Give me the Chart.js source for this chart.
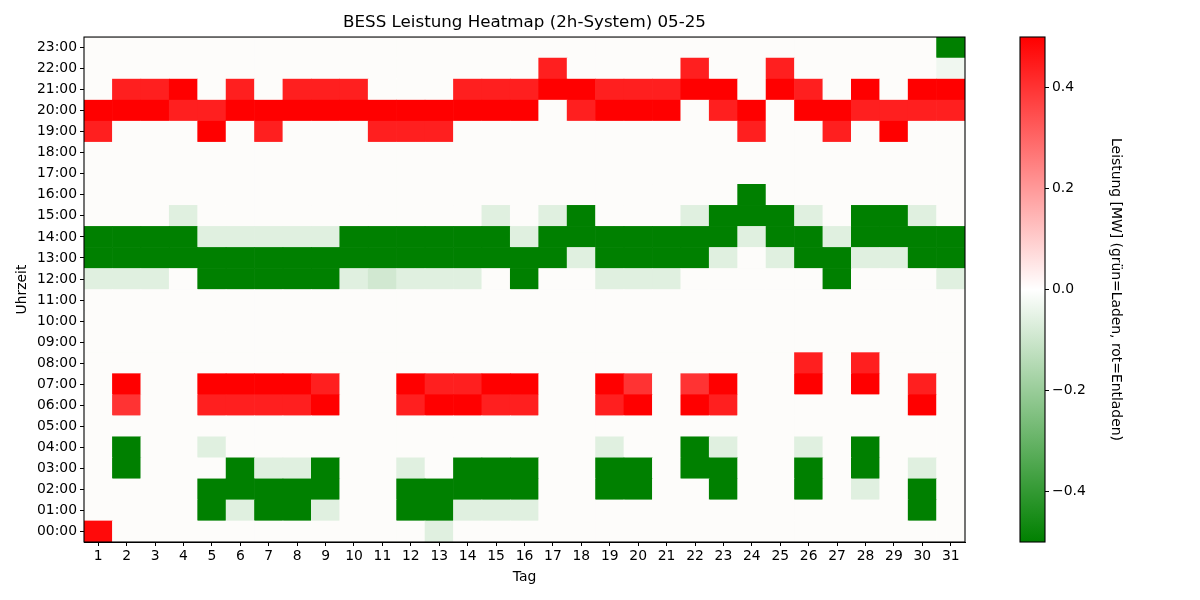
<!DOCTYPE html>
<html lang="de">
<head>
    <meta charset="UTF-8">
    <title>BESS Leistung Heatmap (2h-System) 05-25</title>
    <script src="https://cdn.jsdelivr.net/npm/chart.js"></script>
    <style>
        body {
            margin: 0;
            background: #fff;
        }
        .wrap {
            position: relative;
            width: 1200px;
            height: 600px;
        }
        #heatmap {
            position: absolute;
            left: 0;
            top: 0;
        }
        #colorbar {
            position: absolute;
            left: 1000px;
            top: 0;
        }
    </style>
</head>
<body>
    <div class="wrap">
        <canvas id="heatmap" width="1000" height="600"></canvas>
        <canvas id="colorbar" width="140" height="600"></canvas>
    </div>

    <script>
        const days = ['1','2','3','4','5','6','7','8','9','10','11','12','13','14','15','16',
                      '17','18','19','20','21','22','23','24','25','26','27','28','29','30','31'];
        const hours = ['00:00','01:00','02:00','03:00','04:00','05:00','06:00','07:00','08:00','09:00','10:00','11:00',
                       '12:00','13:00','14:00','15:00','16:00','17:00','18:00','19:00','20:00','21:00','22:00','23:00'];
        const cbTicks = [-0.4, -0.2, 0, 0.2, 0.4];

        // Leistung in MW, eine Zeile pro Stunde (00:00 .. 23:00), Spalten = Tag 1..31
        const leistung = [
            /*00*/ [0.48,0,0,0,0,0,0,0,0,0,0,0,-0.06,0,0,0,0,0,0,0,0,0,0,0,0,0,0,0,0,0,0],
            /*01*/ [0,0,0,0,-0.5,-0.06,-0.5,-0.5,-0.06,0,0,-0.5,-0.5,-0.06,-0.06,-0.06,0,0,0,0,0,0,0,0,0,0,0,0,0,-0.5,0],
            /*02*/ [0,0,0,0,-0.5,-0.5,-0.5,-0.5,-0.5,0,0,-0.5,-0.5,-0.5,-0.5,-0.5,0,0,-0.5,-0.5,0,0,-0.5,0,0,-0.5,0,-0.06,0,-0.5,0],
            /*03*/ [0,-0.5,0,0,0,-0.5,-0.06,-0.06,-0.5,0,0,-0.06,0,-0.5,-0.5,-0.5,0,0,-0.5,-0.5,0,-0.5,-0.5,0,0,-0.5,0,-0.5,0,-0.06,0],
            /*04*/ [0,-0.5,0,0,-0.06,0,0,0,0,0,0,0,0,0,0,0,0,0,-0.06,0,0,-0.5,-0.06,0,0,-0.06,0,-0.5,0,0,0],
            /*05*/ [0,0,0,0,0,0,0,0,0,0,0,0,0,0,0,0,0,0,0,0,0,0,0,0,0,0,0,0,0,0,0],
            /*06*/ [0,0.40,0,0,0.44,0.44,0.44,0.44,0.5,0,0,0.44,0.5,0.5,0.44,0.44,0,0,0.44,0.5,0,0.5,0.44,0,0,0,0,0,0,0.5,0],
            /*07*/ [0,0.5,0,0,0.5,0.5,0.5,0.5,0.44,0,0,0.5,0.44,0.44,0.5,0.5,0,0,0.5,0.40,0,0.40,0.5,0,0,0.5,0,0.5,0,0.44,0],
            /*08*/ [0,0,0,0,0,0,0,0,0,0,0,0,0,0,0,0,0,0,0,0,0,0,0,0,0,0.44,0,0.44,0,0,0],
            /*09*/ [0,0,0,0,0,0,0,0,0,0,0,0,0,0,0,0,0,0,0,0,0,0,0,0,0,0,0,0,0,0,0],
            /*10*/ [0,0,0,0,0,0,0,0,0,0,0,0,0,0,0,0,0,0,0,0,0,0,0,0,0,0,0,0,0,0,0],
            /*11*/ [0,0,0,0,0,0,0,0,0,0,0,0,0,0,0,0,0,0,0,0,0,0,0,0,0,0,0,0,0,0,0],
            /*12*/ [-0.06,-0.06,-0.06,0,-0.5,-0.5,-0.5,-0.5,-0.5,-0.06,-0.09,-0.06,-0.06,-0.06,0,-0.5,0,0,-0.06,-0.06,-0.06,0,0,0,0,0,-0.5,0,0,0,-0.06],
            /*13*/ [-0.5,-0.5,-0.5,-0.5,-0.5,-0.5,-0.5,-0.5,-0.5,-0.5,-0.5,-0.5,-0.5,-0.5,-0.5,-0.5,-0.5,-0.06,-0.5,-0.5,-0.5,-0.5,-0.06,0,-0.06,-0.5,-0.5,-0.06,-0.06,-0.5,-0.5],
            /*14*/ [-0.5,-0.5,-0.5,-0.5,-0.06,-0.06,-0.06,-0.06,-0.06,-0.5,-0.5,-0.5,-0.5,-0.5,-0.5,-0.06,-0.5,-0.5,-0.5,-0.5,-0.5,-0.5,-0.5,-0.06,-0.5,-0.5,-0.06,-0.5,-0.5,-0.5,-0.5],
            /*15*/ [0,0,0,-0.06,0,0,0,0,0,0,0,0,0,0,-0.06,0,-0.06,-0.5,0,0,0,-0.06,-0.5,-0.5,-0.5,-0.06,0,-0.5,-0.5,-0.06,0],
            /*16*/ [0,0,0,0,0,0,0,0,0,0,0,0,0,0,0,0,0,0,0,0,0,0,0,-0.5,0,0,0,0,0,0,0],
            /*17*/ [0,0,0,0,0,0,0,0,0,0,0,0,0,0,0,0,0,0,0,0,0,0,0,0,0,0,0,0,0,0,0],
            /*18*/ [0,0,0,0,0,0,0,0,0,0,0,0,0,0,0,0,0,0,0,0,0,0,0,0,0,0,0,0,0,0,0],
            /*19*/ [0.44,0,0,0,0.5,0,0.44,0,0,0,0.44,0.44,0.44,0,0,0,0,0,0,0,0,0,0,0.44,0,0,0.44,0,0.5,0,0],
            /*20*/ [0.5,0.5,0.5,0.44,0.44,0.5,0.5,0.5,0.5,0.5,0.5,0.5,0.5,0.5,0.5,0.5,0,0.44,0.5,0.5,0.5,0,0.44,0.5,0,0.5,0.5,0.44,0.44,0.44,0.44],
            /*21*/ [0,0.44,0.44,0.5,0,0.44,0,0.44,0.44,0.44,0,0,0,0.44,0.44,0.44,0.5,0.5,0.44,0.44,0.44,0.5,0.5,0,0.5,0.44,0,0.5,0,0.5,0.5],
            /*22*/ [0,0,0,0,0,0,0,0,0,0,0,0,0,0,0,0,0.44,0,0,0,0,0.44,0,0,0.44,0,0,0,0,0,-0.03],
            /*23*/ [0,0,0,0,0,0,0,0,0,0,0,0,0,0,0,0,0,0,0,0,0,0,0,0,0,0,0,0,0,0,-0.5]
        ];

        // gruen (-0.5) -> weiss (0) -> rot (+0.5)
        function cellColor(v) {
            if (v === 0) return 'rgb(253,252,250)';
            const t = Math.max(-1, Math.min(1, v / 0.5));
            if (t > 0) {
                const c = Math.round(255 * (1 - t));
                return `rgb(255,${c},${c})`;
            }
            const s = -t;
            const rb = Math.round(255 * (1 - s));
            const g = Math.round(255 - 127 * s);
            return `rgb(${rb},${g},${rb})`;
        }

        const frame = {
            id: 'frame',
            afterDraw(chart) {
                const a = chart.chartArea;
                const ctx = chart.ctx;
                ctx.save();
                ctx.strokeStyle = '#000';
                ctx.lineWidth = 1.1;
                ctx.strokeRect(a.left, a.top, a.right - a.left, a.bottom - a.top);
                ctx.restore();
            }
        };

        const font = { family: "'DejaVu Sans', sans-serif", size: 13.9 };
        Chart.defaults.color = '#000';
        Chart.defaults.animation = false;

        new Chart(document.getElementById('heatmap'), {
            type: 'bar',
            data: {
                labels: days,
                datasets: hours.map((h, i) => ({
                    label: h,
                    data: days.map(() => [i, i + 1]),
                    backgroundColor: leistung[i].map(cellColor),
                    borderWidth: 0,
                    grouped: false,
                    barPercentage: 1,
                    categoryPercentage: 1
                }))
            },
            options: {
                responsive: false,
                layout: { padding: { left: 0, right: 35, top: 0, bottom: 0 } },
                plugins: {
                    legend: { display: false },
                    tooltip: { enabled: false },
                    title: {
                        display: true,
                        fullSize: false,
                        text: 'BESS Leistung Heatmap (2h-System) 05-25',
                        font: { family: font.family, size: 16.7, weight: 'normal' },
                        color: '#000',
                        padding: { top: 13, bottom: 4 }
                    }
                },
                scales: {
                    x: {
                        type: 'category',
                        offset: true,
                        afterFit: s => { s.height = 58; },
                        grid: { offset: false, drawOnChartArea: false, tickLength: 4, color: '#000' },
                        border: { display: true, color: '#000' },
                        ticks: { font: font, padding: 2, maxRotation: 0, autoSkip: false },
                        title: { display: true, text: 'Tag', font: font, padding: { top: 0, bottom: 14.5 } }
                    },
                    y: {
                        type: 'linear',
                        min: 0,
                        max: 24,
                        afterFit: s => { s.width = 84; },
                        afterBuildTicks: s => { s.ticks = hours.map((h, i) => ({ value: i + 0.5 })); },
                        grid: { drawOnChartArea: false, tickLength: 4, color: '#000' },
                        border: { display: true, color: '#000' },
                        ticks: {
                            font: font,
                            padding: 3,
                            autoSkip: false,
                            callback: v => hours[Math.floor(v)]
                        },
                        title: { display: true, text: 'Uhrzeit', font: font, padding: { top: 14, bottom: 0 } }
                    }
                }
            },
            plugins: [frame]
        });

        new Chart(document.getElementById('colorbar'), {
            type: 'bar',
            data: {
                labels: [''],
                datasets: [{
                    data: [[-0.5, 0.5]],
                    borderWidth: 0,
                    barPercentage: 1,
                    categoryPercentage: 1,
                    backgroundColor: ctx => {
                        const a = ctx.chart.chartArea;
                        if (!a) return 'rgb(253,252,250)';
                        const g = ctx.chart.ctx.createLinearGradient(0, a.bottom, 0, a.top);
                        g.addColorStop(0, 'rgb(0,128,0)');
                        g.addColorStop(0.5, 'rgb(255,255,255)');
                        g.addColorStop(1, 'rgb(255,0,0)');
                        return g;
                    }
                }]
            },
            options: {
                responsive: false,
                layout: { padding: { left: 20, right: 0, top: 37, bottom: 58 } },
                plugins: {
                    legend: { display: false },
                    tooltip: { enabled: false }
                },
                scales: {
                    x: { display: false },
                    y: {
                        position: 'right',
                        min: -0.5,
                        max: 0.5,
                        afterFit: s => { s.width = 95; },
                        afterBuildTicks: s => { s.ticks = cbTicks.map(v => ({ value: v })); },
                        grid: { drawOnChartArea: false, tickLength: 4, color: '#000' },
                        border: { display: false },
                        ticks: {
                            font: font,
                            padding: 3,
                            callback: v => (v < 0 ? '\u2212' : '') + Math.abs(v).toFixed(1)
                        },
                        title: {
                            display: true,
                            text: 'Leistung [MW] (grün=Laden, rot=Entladen)',
                            font: font,
                            padding: { top: 16.5, bottom: 0 }
                        }
                    }
                }
            },
            plugins: [frame]
        });
    </script>
</body>
</html>
